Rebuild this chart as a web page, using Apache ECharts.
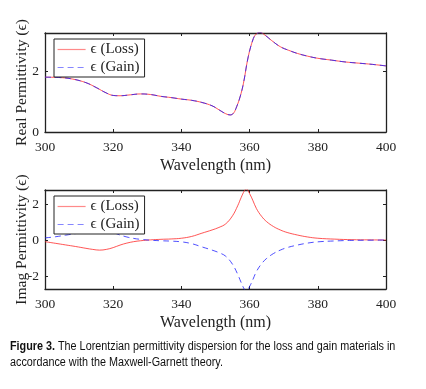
<!DOCTYPE html>
<html><head><meta charset="utf-8">
<script src="https://cdn.jsdelivr.net/npm/echarts@6/dist/echarts.min.js"></script>
<style>html,body{margin:0;padding:0;background:#fff}#c{width:426px;height:389px}</style>
</head><body><div id="c"></div>
<script>
// Wavelength (nm) samples and values
const realWl = [300,304,308,312,315,318,320,322,325,328,331,334,337,340,343,346,349,351,353,354.3,355.3,356.2,357.2,358.2,359.6,361.1,362,363,364.5,366.5,369,371.5,374,377,380,384,388,392,396,400];
const realLoss = [1.80,1.79,1.74,1.62,1.46,1.28,1.20,1.19,1.22,1.25,1.23,1.17,1.13,1.08,1.04,0.97,0.86,0.73,0.60,0.56,0.62,0.83,1.15,1.60,2.47,3.07,3.22,3.27,3.18,3.00,2.80,2.68,2.58,2.49,2.42,2.36,2.30,2.26,2.22,2.17];
const realGain = [1.80,1.79,1.74,1.62,1.46,1.28,1.20,1.19,1.22,1.25,1.23,1.17,1.13,1.08,1.04,0.97,0.86,0.73,0.60,0.56,0.62,0.83,1.15,1.60,2.47,3.07,3.22,3.27,3.18,3.00,2.80,2.68,2.58,2.49,2.42,2.36,2.30,2.26,2.22,2.17];
const imagWl = [300,303,306,309,312,314,316,318,320,322,324,326,328,331,334,337,340,343,346,349,351,353,355,356.5,357.5,358.5,359,360,361,362,363.5,365,367,369,371,374,377,380,385,390,395,400];
const imagLoss = [-0.09,-0.18,-0.27,-0.36,-0.46,-0.52,-0.56,-0.52,-0.42,-0.28,-0.17,-0.09,-0.04,0.01,0.04,0.06,0.10,0.20,0.38,0.56,0.70,0.90,1.35,1.90,2.35,2.75,2.85,2.58,2.18,1.75,1.32,1.02,0.75,0.56,0.42,0.28,0.17,0.10,0.05,0.02,0.01,0.00];
const imagGain = [0.12,0.18,0.27,0.36,0.46,0.52,0.56,0.52,0.42,0.28,0.17,0.09,0.04,-0.01,-0.04,-0.06,-0.10,-0.20,-0.38,-0.56,-0.70,-0.90,-1.35,-1.90,-2.35,-2.75,-2.85,-2.58,-2.18,-1.75,-1.32,-1.02,-0.75,-0.56,-0.42,-0.28,-0.17,-0.10,-0.05,-0.02,-0.01,0.00];
const xTicks = [300,320,340,360,380,400];
const realTicks = [0,2];
const imagTicks = [-2,0,2];
const names = ['\u03f5 (Loss)','\u03f5 (Gain)'];

const zip = (a,b)=>a.map((v,i)=>[v,b[i]]);
const serif = 'Liberation Serif';
const ink = '#222';
function xAx(grid, pos, labels){
  return {type:'value', gridIndex:grid, position:pos, min:300, max:400,
    axisLine:{show:true, onZero:false, lineStyle:{color:ink,width:1.3}},
    axisTick:{show:true, inside:true, length:3, customValues:xTicks, lineStyle:{color:ink}},
    axisLabel:{show:labels, customValues:xTicks, margin:8, color:ink, fontFamily:serif, fontSize:13.5},
    splitLine:{show:false},
    name: labels ? 'Wavelength (nm)' : '', nameLocation:'middle', nameGap:26, nameMoveOverlap:false,
    nameTextStyle:{color:ink, fontFamily:serif, fontSize:16}};
}
function yAx(grid, pos, labels, mn, mx, ticks, name){
  return {type:'value', gridIndex:grid, position:pos, min:mn, max:mx,
    axisLine:{show:true, onZero:false, lineStyle:{color:ink,width:1.3}},
    axisTick:{show:true, inside:true, length:3, customValues:ticks, lineStyle:{color:ink}},
    axisLabel:{show:labels, customValues:ticks, margin:6, color:ink, fontFamily:serif, fontSize:13.5},
    splitLine:{show:false},
    name: labels ? name : '', nameLocation:'middle', nameGap:15, nameMoveOverlap:false,
    nameTextStyle:{color:ink, fontFamily:serif, fontSize:15.5}};
}
function leg(top){
  return {left:54, top:top, orient:'vertical', icon:'inherit',
    data:names,
    itemWidth:28, itemHeight:10, itemGap:3,
    padding:[3,5,2,3], borderColor:ink, borderWidth:1, backgroundColor:'#fff',
    textStyle:{color:ink, fontFamily:serif, fontSize:15}, selectedMode:false,
    lineStyle:{width:1.2, opacity:0.55},
    itemStyle:{opacity:0}};
}
const lossStyle = {color:'#ff2a2a', width:0.8};
const gainStyle = {color:'#2222ff', width:0.8, type:[6,4]};
const chart = echarts.init(document.getElementById('c'), null, {renderer:'canvas'});
const capFont = 'Liberation Sans';
chart.setOption({
  animation:false,
  backgroundColor:'#fff',
  grid:[{left:45, top:33, width:341, height:99, outerBoundsMode:'none', containLabel:false},
        {left:45, top:190, width:341, height:99, outerBoundsMode:'none', containLabel:false}],
  xAxis:[xAx(0,'bottom',true), xAx(0,'top',false), xAx(1,'bottom',true), xAx(1,'top',false)],
  yAxis:[yAx(0,'left',true,0,3.25,realTicks,'Real Permittivity (\u03f5)'), yAx(0,'right',false,0,3.25,realTicks,''),
         yAx(1,'left',true,-2.72,2.78,imagTicks,'Imag Permittivity (\u03f5)'), yAx(1,'right',false,-2.72,2.78,imagTicks,'')],
  legend:[leg(39), leg(196)],
  series:[
    {name:names[0], type:'line', xAxisIndex:0, yAxisIndex:0, data:zip(realWl,realLoss), smooth:0.4, showSymbol:false, symbol:'none', lineStyle:lossStyle, itemStyle:{color:lossStyle.color}, clip:true},
    {name:names[1], type:'line', xAxisIndex:0, yAxisIndex:0, data:zip(realWl,realGain), smooth:0.4, showSymbol:false, symbol:'none', lineStyle:gainStyle, itemStyle:{color:gainStyle.color}, clip:true},
    {name:names[0], type:'line', xAxisIndex:2, yAxisIndex:2, data:zip(imagWl,imagLoss), smooth:0.4, showSymbol:false, symbol:'none', lineStyle:lossStyle, itemStyle:{color:lossStyle.color}, clip:true},
    {name:names[1], type:'line', xAxisIndex:2, yAxisIndex:2, data:zip(imagWl,imagGain), smooth:0.4, showSymbol:false, symbol:'none', lineStyle:gainStyle, itemStyle:{color:gainStyle.color}, clip:true}
  ],
  graphic:[
    {type:'text', x:10, y:341, scaleX:0.9, style:{text:'{b|Figure 3.} The Lorentzian permittivity dispersion for the loss and gain materials in',
      rich:{b:{fontWeight:'bold', fontFamily:capFont, fontSize:12, fill:'#111'}},
      fontFamily:capFont, fontSize:12, fill:'#111'}},
    {type:'text', x:10, y:357, scaleX:0.9, style:{text:'accordance with the Maxwell-Garnett theory.',
      fontFamily:capFont, fontSize:12, fill:'#111'}}
  ]
});
</script></body></html>
